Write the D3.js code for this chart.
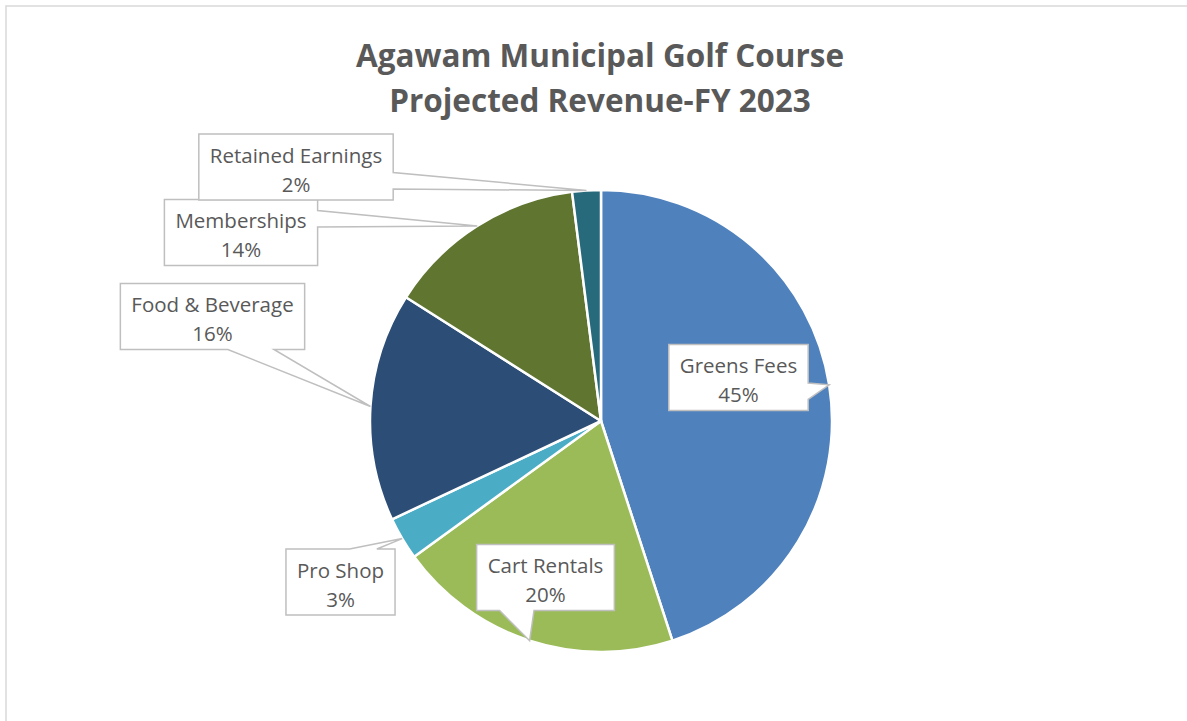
<!DOCTYPE html>
<html>
<head>
<meta charset="utf-8">
<script src="https://cdn.jsdelivr.net/npm/d3@7"></script>
<style>
  body { margin: 0; background: #fff; }
  svg { display: block; }
</style>
</head>
<body>
<div id="chart"></div>
<script>
// data
const categories = ["Greens Fees", "Cart Rentals", "Pro Shop", "Food & Beverage", "Memberships", "Retained Earnings"];
const shares = [45, 20, 3, 16, 14, 2];
const titleLines = ["Agawam Municipal Golf Course", "Projected Revenue-FY 2023"];

// styling / layout
const colors = ["#4F81BD", "#9BBB59", "#4BACC6", "#2C4D75", "#5F7530", "#276A7C"];
// label box centres, relative to the pie centre
const labelOffsets = [[137.5, -43.5], [-55.5, 156.5], [-260.5, 161], [-388.5, -104.5], [-360, -188.5], [-305, -254]];

const width = 1187, height = 721;
const cx = 601, cy = 421, radius = 231;

const svg = d3.select("#chart").append("svg")
    .attr("width", width)
    .attr("height", height);

// chart frame
svg.append("rect")
    .attr("x", 6).attr("y", 6)
    .attr("width", width + 20).attr("height", height + 20)
    .attr("fill", "#fff")
    .attr("stroke", "#d9d9d9")
    .attr("stroke-width", 1.5);

// title
svg.append("g").selectAll("text")
    .data(titleLines)
    .join("text")
    .attr("x", 600)
    .attr("y", (d, i) => 67 + i * 45)
    .attr("text-anchor", "middle")
    .attr("font-family", "'Open Sans', sans-serif")
    .attr("font-weight", 700)
    .attr("font-size", 31.5)
    .attr("fill", "#595959")
    .text(d => d);

const data = categories.map((c, i) => ({ label: c, value: shares[i] }));

const pie = d3.pie().value(d => d.value).sort(null);
const arc = d3.arc().innerRadius(0).outerRadius(radius);
const edgeArc = d3.arc().innerRadius(radius).outerRadius(radius);
const color = d3.scaleOrdinal().domain(categories).range(colors);

const g = svg.append("g").attr("transform", `translate(${cx},${cy})`);
const arcs = pie(data);

g.selectAll(".slice")
    .data(arcs)
    .join("path")
    .attr("class", "slice")
    .attr("d", arc)
    .attr("fill", d => color(d.data.label))
    .attr("stroke", "#fff")
    .attr("stroke-width", 2.5)
    .attr("stroke-linejoin", "round");

// wedgeRectCallout like the office shape
function calloutPath(x0, y0, w, h, tx, ty) {
    const mx = x0 + w / 2, my = y0 + h / 2;
    const dx = tx - mx, dy = ty - my;
    const x1 = x0 + w, y1 = y0 + h;
    let p;
    if (Math.abs(dx) * h > Math.abs(dy) * w) {
        const a = dy < 0 ? y0 + h * 2 / 12 : y0 + h * 7 / 12;
        const b = dy < 0 ? y0 + h * 5 / 12 : y0 + h * 10 / 12;
        if (dx > 0) {
            p = [[x0, y0], [x1, y0], [x1, a], [tx, ty], [x1, b], [x1, y1], [x0, y1]];
        } else {
            p = [[x0, y0], [x1, y0], [x1, y1], [x0, y1], [x0, b], [tx, ty], [x0, a]];
        }
    } else {
        const a = dx < 0 ? x0 + w * 2 / 12 : x0 + w * 7 / 12;
        const b = dx < 0 ? x0 + w * 5 / 12 : x0 + w * 10 / 12;
        if (dy > 0) {
            p = [[x0, y0], [x1, y0], [x1, y1], [b, y1], [tx, ty], [a, y1], [x0, y1]];
        } else {
            p = [[x0, y0], [a, y0], [tx, ty], [b, y0], [x1, y0], [x1, y1], [x0, y1]];
        }
    }
    return "M" + p.map(q => q.join(",")).join("L") + "Z";
}

const fmt = d3.format(".0%");
const total = d3.sum(shares);

const labels = g.selectAll(".arc-label")
    .data(arcs)
    .join("g")
    .attr("class", "arc-label");

const box = labels.append("path")
    .attr("fill", "#fff")
    .attr("stroke", "#bfbfbf")
    .attr("stroke-width", 1.5);

const txt = labels.append("text")
    .attr("text-anchor", "middle")
    .attr("font-family", "'Open Sans', sans-serif")
    .attr("font-size", 20.5)
    .attr("fill", "#595959");

txt.append("tspan")
    .attr("x", (d, i) => labelOffsets[i][0])
    .attr("y", (d, i) => labelOffsets[i][1] - 4.5)
    .text(d => d.data.label);

txt.append("tspan")
    .attr("x", (d, i) => labelOffsets[i][0])
    .attr("y", (d, i) => labelOffsets[i][1] + 24.5)
    .text(d => fmt(d.data.value / total));

txt.each(function (d, i) {
    const bw = this.getBBox().width + 22;
    const bh = 66;
    const [ox, oy] = labelOffsets[i];
    const [tx, ty] = edgeArc.centroid(d);
    d3.select(this.parentNode).select("path")
        .attr("d", calloutPath(ox - bw / 2, oy - bh / 2, bw, bh, tx, ty));
});
</script>
</body>
</html>
